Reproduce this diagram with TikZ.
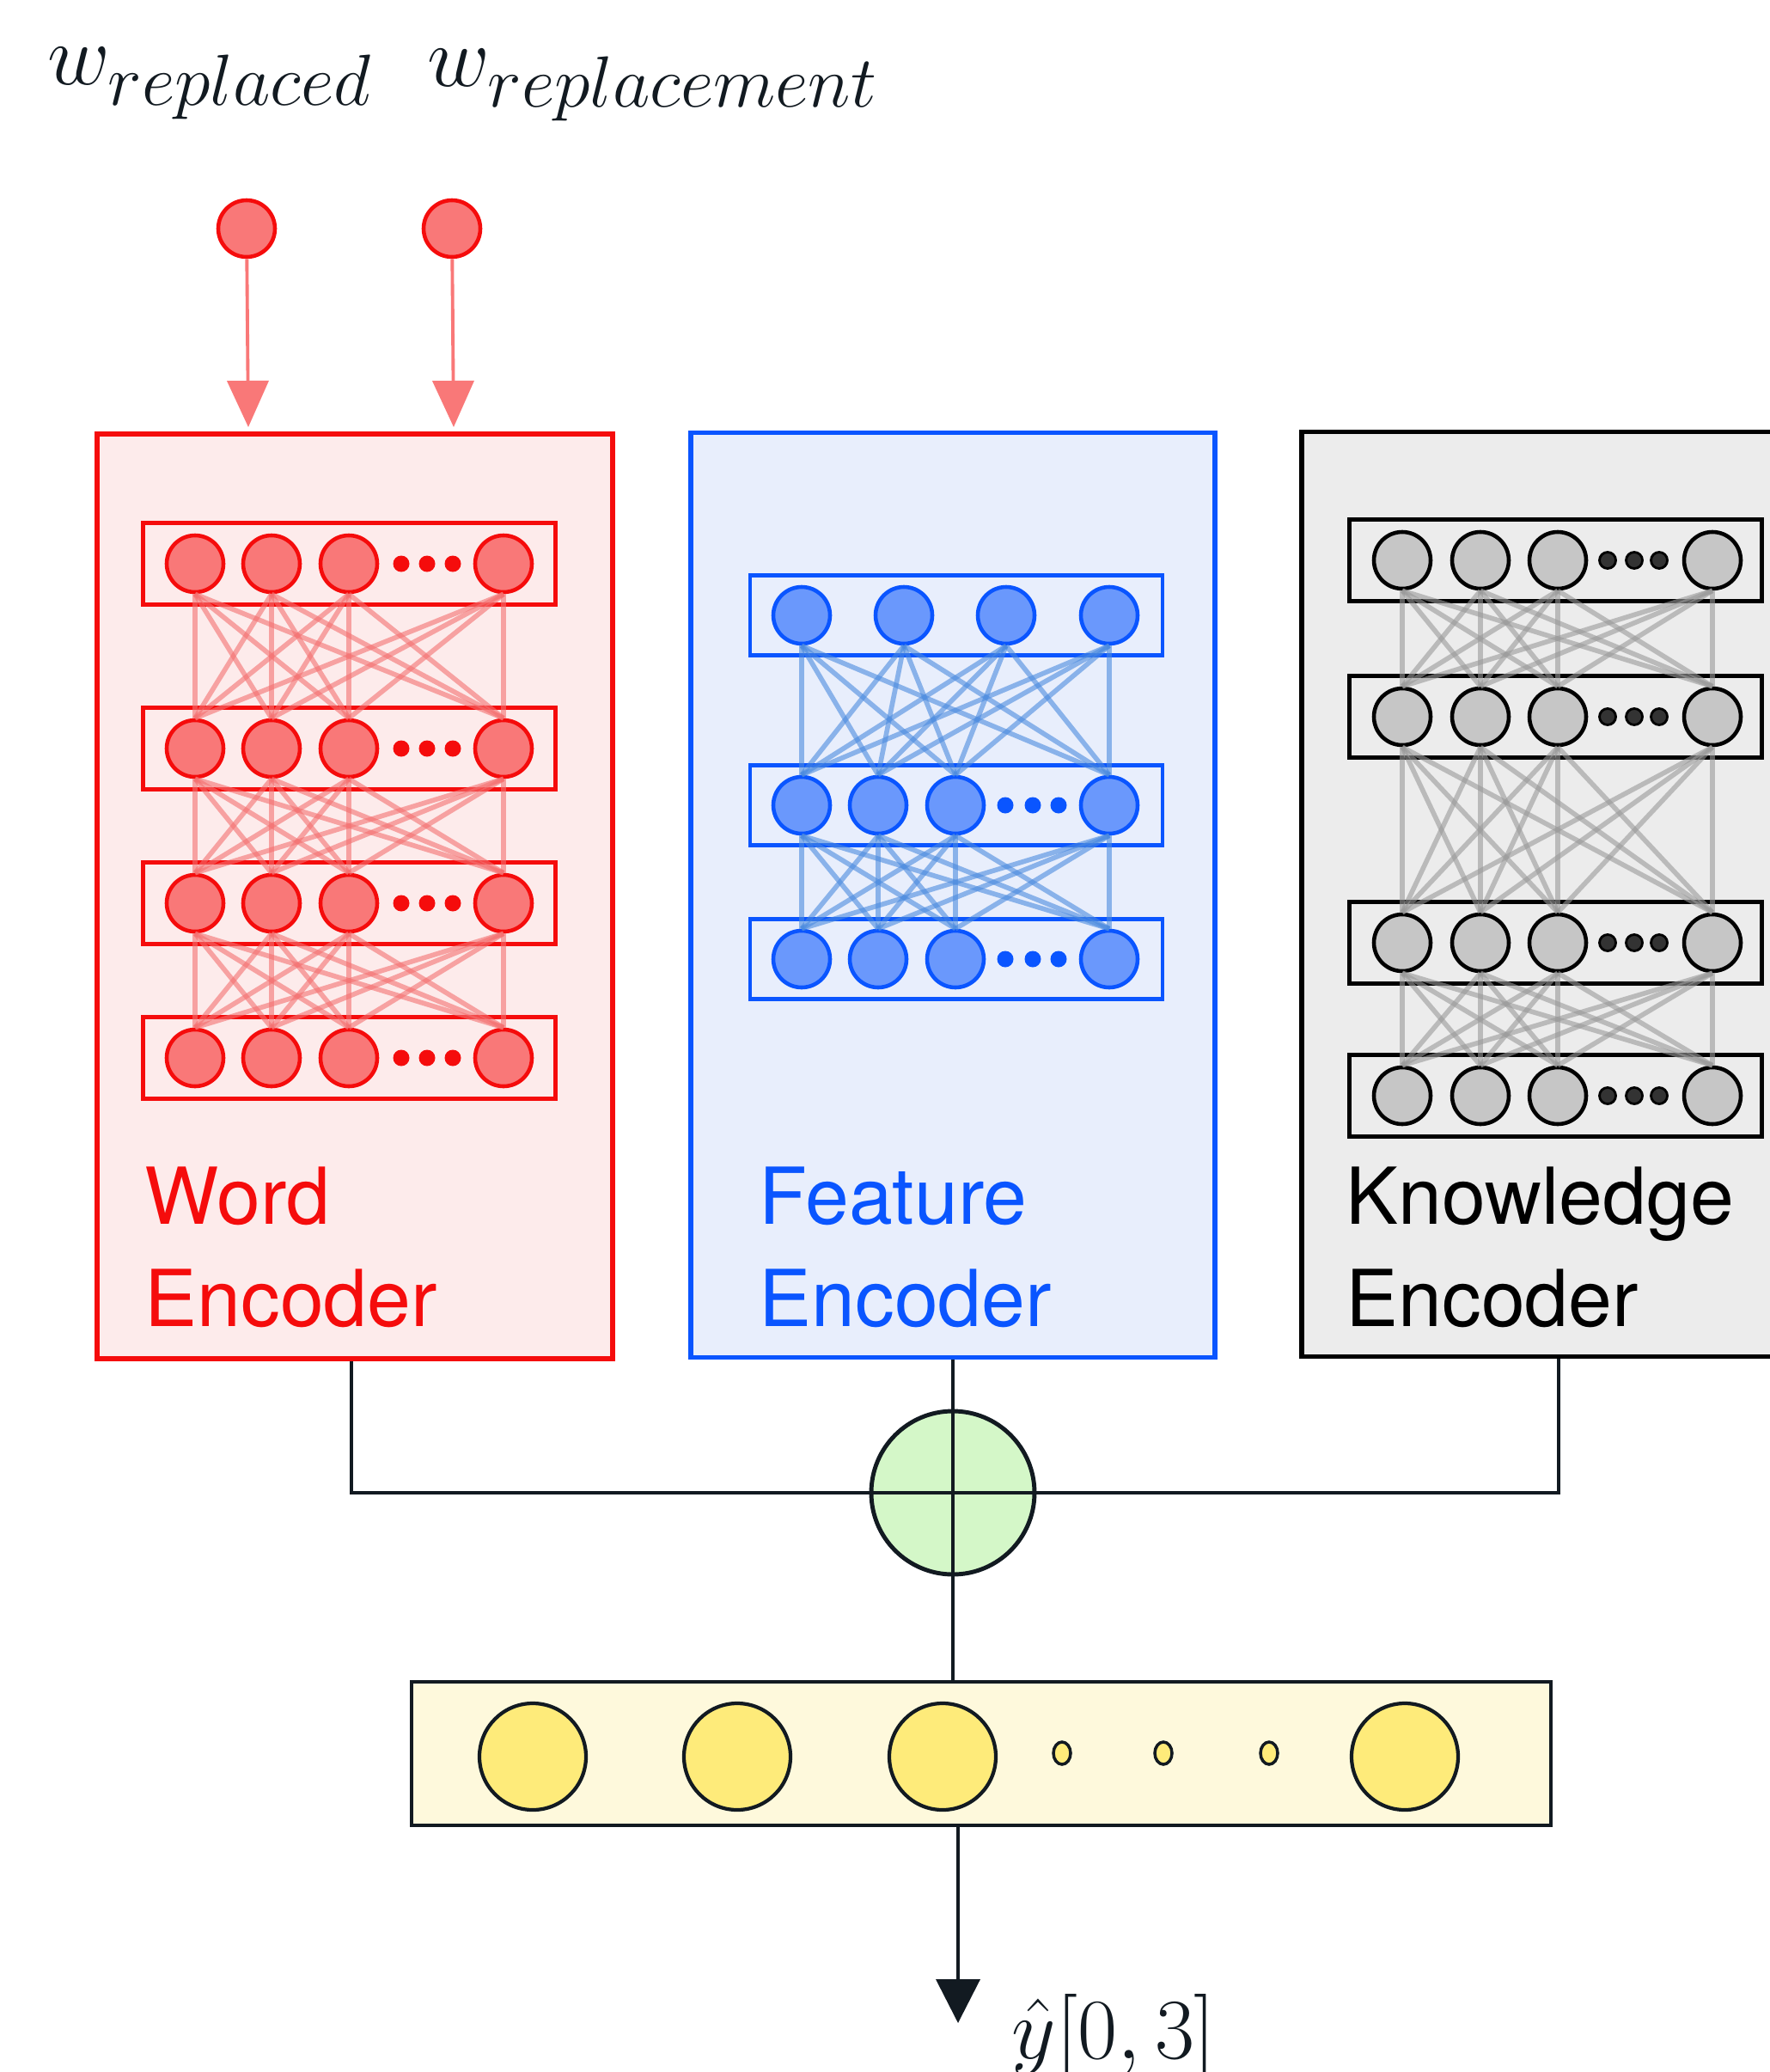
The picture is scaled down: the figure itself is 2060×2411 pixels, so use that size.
\RequirePackage{fix-cm}
\documentclass[tikz,border=0pt]{standalone}
\usepackage{fontspec}
\newfontfamily\encfont{TeX Gyre Heros}
\usetikzlibrary{positioning,arrows.meta,shapes.geometric}
\DeclareMathSizes{28.5}{28.5}{24}{18}
\definecolor{inkdark}{RGB}{18,26,33}
\definecolor{wred}{RGB}{245,12,12}
\definecolor{wboxfill}{RGB}{253,235,235}
\definecolor{wunitfill}{RGB}{249,120,120}
\definecolor{wlinkc}{RGB}{244,112,112}
\definecolor{fblue}{RGB}{10,85,255}
\definecolor{fboxfill}{RGB}{232,238,252}
\definecolor{funitfill}{RGB}{106,152,252}
\definecolor{flinkc}{RGB}{74,138,223}
\definecolor{kboxfill}{RGB}{236,236,236}
\definecolor{kunitfill}{RGB}{198,198,198}
\definecolor{klinkc}{RGB}{154,154,154}
\definecolor{sumfill}{RGB}{212,247,200}
\definecolor{yboxfill}{RGB}{254,249,220}
\definecolor{yunitfill}{RGB}{254,235,122}
\tikzset{
  encbox/.style={draw,line width=1.5pt,minimum height=107.6mm,inner sep=0pt},
  rowbox/.style={draw,line width=1.2pt,minimum width=48mm,minimum height=9.5mm,inner sep=0pt},
  unit/.style={circle,line width=1.3pt,minimum size=6.6mm,inner sep=0pt},
  wunit/.style={unit,draw=wred,fill=wunitfill},
  funit/.style={unit,draw=fblue,fill=funitfill},
  kunit/.style={unit,draw=black,fill=kunitfill},
  udot/.style={circle,minimum size=1.9mm,inner sep=0pt},
  wlink/.style={draw=wlinkc,opacity=.6,line width=1.6pt},
  flink/.style={draw=flinkc,opacity=.6,line width=1.6pt},
  klink/.style={draw=klinkc,opacity=.6,line width=1.6pt},
  elab/.style={font=\encfont\fontsize{26}{33.9}\selectfont,align=left,inner sep=0pt,anchor=north west},
  mlab/.style={font=\fontsize{28.5}{34}\selectfont,text=inkdark,inner sep=0pt,anchor=base west},
  inarr/.style={draw=wunitfill,line width=1.1pt,-{Triangle[length=5.4mm,width=4.8mm]}},
  outarr/.style={draw=inkdark,line width=1.1pt,-{Triangle[length=5.1mm,width=5.1mm]}},
  joinline/.style={draw=inkdark,line width=1.2pt},
  sumnode/.style={circle,draw=inkdark,fill=sumfill,line width=1.4pt,minimum size=19mm,inner sep=0pt},
  yunit/.style={circle,draw=inkdark,fill=yunitfill,line width=1.2pt,minimum size=12.4mm,inner sep=0pt},
  ydot/.style={ellipse,draw=inkdark,fill=yunitfill,line width=1pt,minimum width=2mm,minimum height=2.6mm,inner sep=0pt}
}
\begin{document}
\begin{tikzpicture}[x=0.1mm,y=-0.1mm]
  \useasboundingbox (0,0) rectangle (2060,2411);

  \node[mlab] (wold) at (55,98) {$w_{replaced}$};
  \node[mlab] (wnew) at (497,100) {$w_{replacement}$};
  \node[wunit] (in1) at (287,266) {}; \node[wunit] (in2) at (526,266) {};
  \coordinate (in1e) at (289,497); \coordinate (in2e) at (528,497);
  \draw[inarr] (in1) -- (in1e); \draw[inarr] (in2) -- (in2e);

  \node[encbox,draw=wred,fill=wboxfill,minimum width=60mm] (wenc) at (413,1043) {};
  \node[encbox,draw=fblue,fill=fboxfill,minimum width=61mm] (fenc) at (1109,1041.5) {};
  \node[encbox,draw=black,fill=kboxfill,minimum width=57.5mm] (kenc) at (1802.5,1040.5) {};

  % word encoder
  \foreach \l/\y in {1/656,2/871,3/1051,4/1231} {
    \node[rowbox,draw=wred] (wr\l) at (406.5,\y) {};
    \foreach \i/\x in {1/227,2/316,3/406,4/586} \node[wunit] (w\l\i) at (\x,\y) {};
    \foreach \x [count=\d] in {467,497,527} \node[udot,fill=wred] (wd\l\d) at (\x,\y) {};
  }
  \foreach \a/\b in {1/2,2/3,3/4} \foreach \i in {1,...,4} \foreach \j in {1,...,4}
    \draw[wlink] (w\a\i.south) -- (w\b\j.north);

  % feature encoder
  \node[rowbox,draw=fblue,minimum height=9.3mm] (fr1) at (1113,716) {};
  \foreach \i/\x in {1/933,2/1052,3/1171,4/1291} \node[funit] (f1\i) at (\x,716) {};
  \foreach \l/\y in {2/937,3/1116} {
    \node[rowbox,draw=fblue,minimum height=9.3mm] (fr\l) at (1113,\y) {};
    \foreach \i/\x in {1/933,2/1022,3/1112,4/1291} \node[funit] (f\l\i) at (\x,\y) {};
    \foreach \x [count=\d] in {1170,1202,1232} \node[udot,fill=fblue] (fd\l\d) at (\x,\y) {};
  }
  \foreach \a/\b in {1/2,2/3} \foreach \i in {1,...,4} \foreach \j in {1,...,4}
    \draw[flink] (f\a\i.south) -- (f\b\j.north);

  % knowledge encoder
  \foreach \l/\y in {1/652,2/834,3/1097,4/1275} {
    \node[rowbox,draw=black] (kr\l) at (1810.5,\y) {};
    \foreach \i/\x in {1/1632,2/1723,3/1813,4/1993} \node[kunit] (k\l\i) at (\x,\y) {};
    \foreach \x [count=\d] in {1871,1902,1931} \node[udot,fill=black!80,draw=black,line width=.8pt] (kd\l\d) at (\x,\y) {};
  }
  \foreach \a/\b in {1/2,2/3,3/4} \foreach \i in {1,...,4} \foreach \j in {1,...,4}
    \draw[klink] (k\a\i.south) -- (k\b\j.north);

  \node[elab,text=wred] (wlab) at (168,1357) {Word\\Encoder};
  \node[elab,text=fblue] (flab) at (883,1357) {Feature\\Encoder};
  \node[elab,text=black] (klab) at (1566,1357) {Knowledge\\Encoder};

  % merge and output
  \node[sumnode] (sum) at (1109,1737) {};
  \node[draw=inkdark,fill=yboxfill,line width=1.4pt,minimum width=132.6mm,minimum height=16.7mm,inner sep=0pt] (ybox) at (1142,2040.5) {};
  \coordinate (wj) at (409,1737); \coordinate (kj) at (1814,1737);
  \draw[joinline] (wenc.south -| wj) -- (wj) -- (kj) -- (kenc.south -| kj);
  \draw[joinline] (fenc.south) -- (ybox.north -| fenc.south);
  \foreach \i/\x in {1/620,2/858,3/1097,4/1635} \node[yunit] (y\i) at (\x,2044) {};
  \foreach \x [count=\d] in {1236,1354,1477} \node[ydot] (yd\d) at (\x,2040) {};
  \coordinate (yout) at (1115,2354);
  \draw[outarr] (ybox.south -| yout) -- (yout);
  \node[mlab] (yhat) at (1177,2395) {$\hat{y}[0,3]$};
\end{tikzpicture}
\end{document}
